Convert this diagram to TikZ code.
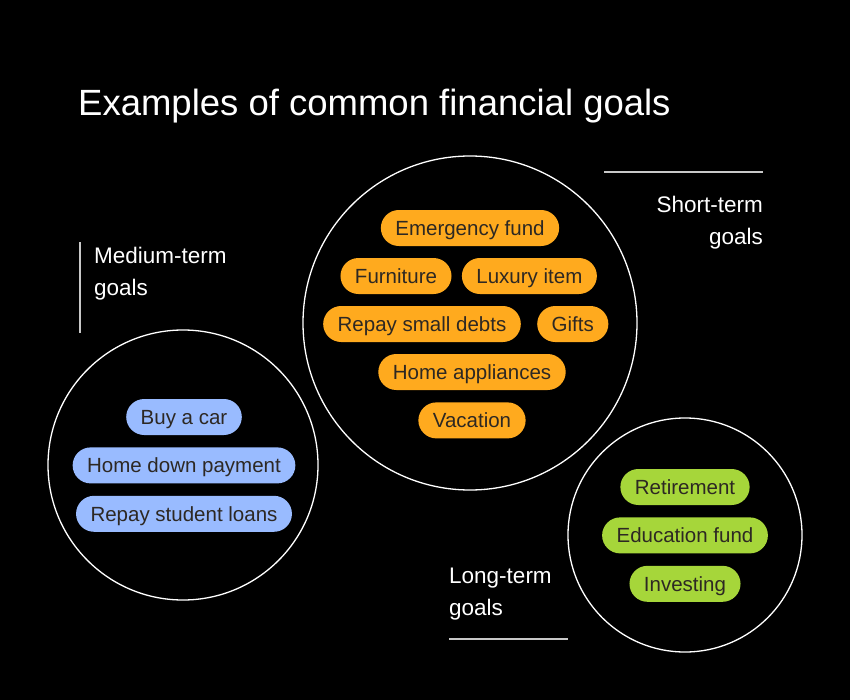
\documentclass[tikz,border=0pt]{standalone}
\usepackage{fontspec}
\setmainfont{Liberation Sans}
\usetikzlibrary{positioning}
\definecolor{GoalOrange}{RGB}{255,170,30}
\definecolor{GoalBlue}{RGB}{153,187,255}
\definecolor{GoalGreen}{RGB}{166,214,58}
\definecolor{PillText}{RGB}{45,40,35}
\definecolor{RuleGrey}{RGB}{200,200,200}

\begin{document}
\begin{tikzpicture} [x=1bp, y=-1bp, white, text=white,
	   every node/.style={font=\fontsize{22.5bp}{32bp}\selectfont},
	   goalitem/.style = {rectangle, rounded corners=18bp, fill=#1, draw=none,
	                      text=PillText, minimum height=36bp, inner xsep=14.5bp, inner ysep=0pt,
	                      text height=17.5bp, text depth=3bp,
	                      font=\fontsize{20.5bp}{24bp}\selectfont},
	   goalgroup/.style = {circle, draw=white, line width=1.3bp, minimum size=#1, inner sep=0pt},
	   rule/.style = {RuleGrey, line width=1.6bp}]
	%% Background
	\fill[black] (0,0) rectangle (850,700);

	%% Title
	\node [anchor=base west, inner sep=0pt, font=\fontsize{36.5bp}{40bp}\selectfont] (title) at (78,116)
	      {Examples of common financial goals};

	%% Circles
	\node [goalgroup={334bp}] (short) at (470,323) {};
	\node [goalgroup={270bp}] (medium) at (183,465) {};
	\node [goalgroup={234bp}] (long) at (685,535) {};

	%% Short-term goals
	\node [goalitem=GoalOrange] (fund) at (470,228) {Emergency fund};
	\node [goalitem=GoalOrange] (furniture) at (396,276) {Furniture};
	\node [goalitem=GoalOrange,right = 10bp of furniture] (luxury) {Luxury item};
	\node [goalitem=GoalOrange] (debts) at (422,324) {Repay small debts};
	\node [goalitem=GoalOrange,right = 16bp of debts] (gifts) {Gifts};
	\node [goalitem=GoalOrange] (appliances) at (472,372) {Home appliances};
	\node [goalitem=GoalOrange,below = 12bp of appliances] (vacation) {Vacation};

	%% Medium-term goals
	\node [goalitem=GoalBlue] (car) at (184,417) {Buy a car};
	\node [goalitem=GoalBlue,below = 12bp of car] (house) {Home down payment};
	\node [goalitem=GoalBlue,below = 12bp of house] (loans) {Repay student loans};

	%% Long-term goals
	\node [goalitem=GoalGreen] (retire) at (685,487) {Retirement};
	\node [goalitem=GoalGreen,below = 12bp of retire] (education) {Education fund};
	\node [goalitem=GoalGreen,below = 12bp of education] (invest) {Investing};

	%% Labels
	\node [anchor=north west, align=left, inner sep=0pt] (medlabel) at (94,247) {Medium-term\\goals};
	\node [anchor=north east, align=right, inner sep=0pt] (shortlabel) at (763,196) {Short-term\\goals};
	\node [anchor=north west, align=left, inner sep=0pt] (longlabel) at (449,568) {Long-term\\goals};

	%% Rules
	\draw[rule] (80,242) -- (80,333);
	\draw[rule] (604,172) -- (763,172);
	\draw[rule] (449,639) -- (568,639);
\end{tikzpicture}
\end{document}
